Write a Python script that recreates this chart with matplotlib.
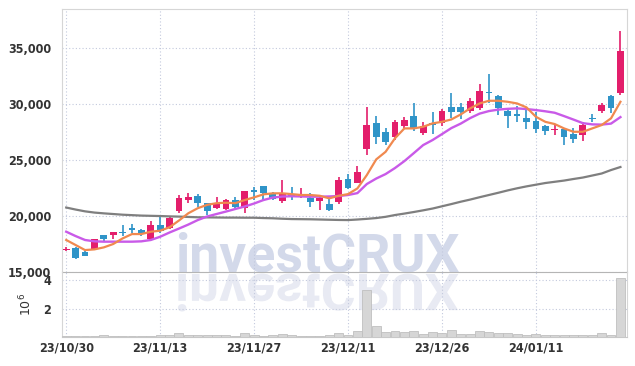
import matplotlib
matplotlib.use("Agg")
import matplotlib.pyplot as plt
from matplotlib.textpath import TextPath
from matplotlib.patches import PathPatch
from matplotlib.font_manager import FontProperties
from matplotlib.transforms import Affine2D

# trading days (23/10/30 .. 24/01/24)
dates = ["23/10/30", "23/10/31",
         "23/11/01", "23/11/02", "23/11/03", "23/11/06", "23/11/07", "23/11/08", "23/11/09", "23/11/10",
         "23/11/13", "23/11/14", "23/11/15", "23/11/16", "23/11/17", "23/11/20", "23/11/21", "23/11/22",
         "23/11/23", "23/11/24", "23/11/27", "23/11/28", "23/11/29", "23/11/30",
         "23/12/01", "23/12/04", "23/12/05", "23/12/06", "23/12/07", "23/12/08", "23/12/11", "23/12/12",
         "23/12/13", "23/12/14", "23/12/15", "23/12/18", "23/12/19", "23/12/20", "23/12/21", "23/12/22",
         "23/12/26", "23/12/27", "23/12/28",
         "24/01/02", "24/01/03", "24/01/04", "24/01/05", "24/01/08", "24/01/09", "24/01/10", "24/01/11",
         "24/01/12", "24/01/15", "24/01/16", "24/01/17", "24/01/18", "24/01/19", "24/01/22", "24/01/23",
         "24/01/24"]

opens = [16950, 17170, 16790, 17080, 18280, 18280, 18570, 18900, 18750, 17970,
         19170, 18900, 20450, 21460, 21810, 21130, 20710, 20650, 21430, 20710,
         22320, 22680, 22030, 21370, 21960, 21790, 21640, 21370, 21070, 21280,
         23310, 22970, 25960, 28330, 27530, 27080, 28040, 28930, 27380, 28280,
         28280, 29760, 29760, 29400, 29650, 31100, 30740, 29370, 29110, 28780,
         28480, 28040, 27650, 27770, 27320, 27230, 28750, 29420, 30710, 31010]
highs = [17200, 17230, 16880, 17950, 18300, 18600, 19170, 19290, 18840, 19550,
         20090, 19940, 21870, 22030, 21940, 21200, 21670, 21480, 21720, 22260,
         22620, 22700, 22140, 23220, 22560, 22470, 22030, 21700, 21580, 23510,
         23720, 24460, 29760, 28930, 27830, 28570, 28870, 30060, 28420, 29310,
         29530, 30960, 30060, 30510, 31790, 32680, 30800, 29600, 29820, 29760,
         29310, 28130, 28220, 27800, 27830, 28420, 29080, 30140, 30800, 36540]
lows = [16850, 16130, 16400, 17050, 17680, 17920, 18240, 18450, 18210, 17920,
        18450, 18800, 20240, 21190, 20830, 20090, 20600, 20540, 20690, 20240,
        21430, 21430, 21430, 21200, 21430, 21580, 20830, 20540, 20470, 21070,
        22450, 22920, 25450, 26430, 26340, 26790, 27830, 27620, 27230, 27320,
        28040, 28720, 28640, 29170, 29470, 30060, 29020, 27830, 28420, 27770,
        27380, 27230, 27230, 26340, 26560, 26740, 28420, 29190, 29190, 30800]
closes = [17050, 16220, 16460, 17920, 17950, 18570, 18450, 18750, 18360, 19170,
          18630, 19850, 21640, 21700, 21190, 20470, 21040, 21430, 20830, 22230,
          22140, 22080, 21490, 22080, 21810, 21940, 21280, 21640, 20540, 23220,
          22530, 23900, 28130, 27080, 26640, 28440, 28570, 27830, 28040, 28100,
          29420, 29260, 29260, 30270, 31160, 30960, 29620, 28960, 28960, 28420,
          27770, 27590, 27800, 27080, 26900, 28130, 28630, 29910, 29650, 34730]

# volume in millions of shares
volume = [0.08, 0.08, 0.08, 0.08, 0.15, 0.08, 0.08, 0.08, 0.08, 0.10,
          0.12, 0.12, 0.30, 0.13, 0.13, 0.13, 0.13, 0.12, 0.10, 0.30,
          0.15, 0.10, 0.12, 0.22, 0.12, 0.10, 0.10, 0.10, 0.12, 0.30,
          0.15, 0.42, 3.32, 0.77, 0.35, 0.42, 0.32, 0.40, 0.22, 0.32,
          0.30, 0.49, 0.20, 0.20, 0.42, 0.32, 0.27, 0.27, 0.18, 0.14,
          0.22, 0.13, 0.13, 0.13, 0.13, 0.13, 0.13, 0.30, 0.13, 4.12]

# moving averages as drawn
ma_short = [17860, 17410, 16960, 17020, 17200, 17500, 18000, 18390, 18390, 18600,
            18690, 19000, 19600, 20250, 20700, 21000, 21150, 21190, 21150, 21430,
            21670, 21940, 22030, 22030, 21960, 21880, 21880, 21810, 21580, 21810,
            21960, 22470, 23660, 25060, 25740, 26950, 27830, 27830, 27980, 28280,
            28420, 28630, 29080, 29620, 30060, 30300, 30300, 30210, 30060, 29710,
            28870, 28420, 28220, 27830, 27530, 27530, 27830, 28130, 28730, 30210]
ma_mid = [18600, 18210, 17860, 17740, 17710, 17710, 17710, 17710, 17740, 17860,
          18150, 18530, 18880, 19240, 19640, 19960, 20180, 20400, 20630, 20850,
          21120, 21430, 21650, 21740, 21770, 21750, 21730, 21730, 21750, 21790,
          21880, 22050, 22860, 23350, 23750, 24290, 24910, 25620, 26340, 26790,
          27320, 27860, 28260, 28750, 29150, 29380, 29510, 29580, 29620, 29560,
          29470, 29360, 29230, 28930, 28620, 28300, 28190, 28170, 28260, 28840]
ma_long = [20760, 20580, 20420, 20310, 20240, 20180, 20120, 20080, 20040, 20020,
           20000, 19970, 19950, 19920, 19890, 19880, 19870, 19860, 19860, 19850,
           19850, 19820, 19800, 19760, 19730, 19720, 19710, 19690, 19670, 19650,
           19640, 19690, 19750, 19820, 19930, 20090, 20220, 20360, 20510, 20670,
           20870, 21070, 21280, 21470, 21680, 21880, 22080, 22290, 22480, 22650,
           22800, 22950, 23060, 23170, 23310, 23440, 23620, 23800, 24110, 24380]

price_ticks = [15000, 20000, 25000, 30000, 35000]
volume_ticks = [2, 4]

UP = "#e31e6b"
DOWN = "#2f94c8"
GRID = "#c3c9dd"
TICK_FONT = dict(family="DejaVu Sans", stretch="condensed", weight="bold", size=9, color="#333333")

W, H = 635, 366
fig = plt.figure(figsize=(W / 100, H / 100), dpi=100)
ax = fig.add_axes([62 / W, 1 - 272 / H, 565 / W, 263 / H])
axv = fig.add_axes([62 / W, 1 - 337 / H, 565 / W, 65 / H], sharex=ax)
for a in (ax, axv):
    a.patch.set_facecolor("none")

# watermark and its reflection, behind everything
wm_font = FontProperties(family="Roboto", weight="bold")
wm_size = 38.5
fig.text(175 / W, 94 / H, "investCRUX", fontproperties=wm_font, fontsize=wm_size,
         color="#d3d9ea", ha="left", va="baseline", zorder=-2)
tp = TextPath((0, 0), "investCRUX", size=wm_size * 100 / 72, prop=wm_font)
refl = PathPatch(tp, transform=Affine2D().scale(1, -0.95).translate(175, H - 274),
                 facecolor="#e8eaf3", edgecolor="none", zorder=-2)
fig.add_artist(refl)

x = list(range(len(dates)))
colors = [UP if c >= o else DOWN for o, c in zip(opens, closes)]
bodies = [abs(c - o) for o, c in zip(opens, closes)]
bottoms = [min(o, c) for o, c in zip(opens, closes)]

ax.vlines(x, lows, highs, colors=colors, lw=1.2, zorder=3)
ax.bar(x, bodies, bottom=bottoms, width=0.72, color=colors, zorder=4)

ax.plot(x, ma_long, color="#7f7f7f", lw=1.6, zorder=5)
ax.plot(x, ma_mid, color="#c95ae8", lw=1.7, zorder=5)
ax.plot(x, ma_short, color="#f0894f", lw=1.6, zorder=6)

axv.bar(x, volume, width=0.95, color="#d6d6d6", edgecolor="#bfbfbf", lw=0.6, zorder=3)

ax.set_xlim(-0.45, 59.7)
ax.set_ylim(15000, 38500)
ax.set_yticks(price_ticks)
ax.set_yticklabels([f"{t:,}" for t in price_ticks], fontdict=TICK_FONT)
axv.set_ylim(0, 4.57)
axv.set_yticks(volume_ticks)
axv.set_yticklabels([str(t) for t in volume_ticks], fontdict=TICK_FONT)
axv.set_ylabel("10$^6$", fontsize=9, color="#333333", labelpad=6)

tick_idx = list(range(0, len(dates), 10))
axv.set_xticks(tick_idx)
axv.set_xticklabels([dates[i] for i in tick_idx], fontdict=TICK_FONT)

ax.tick_params(axis="x", labelbottom=False, length=0)
ax.tick_params(axis="y", length=0, pad=8)
axv.tick_params(axis="x", length=0, pad=3)
axv.tick_params(axis="y", length=0, pad=8)

for a in (ax, axv):
    a.grid(True, color=GRID, linestyle=(0, (1, 2)), lw=0.8, zorder=1)
    a.set_axisbelow(True)
    for s in a.spines.values():
        s.set_color("#d6d6d6")
        s.set_linewidth(0.8)
ax.spines["bottom"].set_color("#b5b5b5")
axv.spines["top"].set_visible(False)
axv.spines["bottom"].set_color("#c8c8c8")

fig.savefig("out.png", dpi=100, facecolor="white")
